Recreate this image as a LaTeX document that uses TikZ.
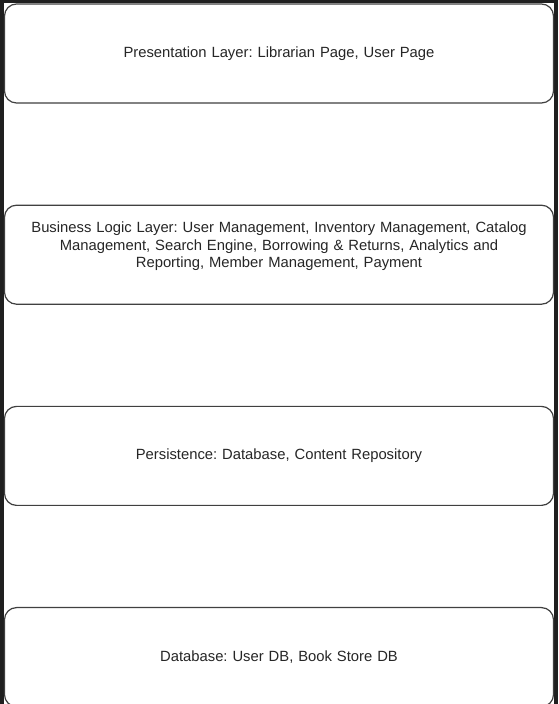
\documentclass[tikz,border=0pt]{standalone}
\usepackage{fontspec}
\setmainfont{Liberation Sans}
\frenchspacing
\usetikzlibrary{positioning}
\tikzset{
	layer/.style={draw=black!75, line width=1.2pt, rounded corners=12pt, fill=white,
		minimum width=549pt, minimum height=99pt, text width=530pt, align=center,
		font=\fontsize{14.8}{17.2}\selectfont, text=black!85},
	layertext/.style={text width=530pt, align=center,
		font=\fontsize{14.8}{17.2}\selectfont, text=black!85}
}

\begin{document}
\begin{tikzpicture}[x=1pt, y=1pt, node distance=101pt]
			\fill[black!88] (0,0) rectangle (558,704);
			\fill[white] (4,0) rectangle (554,701);
			\useasboundingbox (0,0) rectangle (558,704);
			\node[layer] (pres) at (279,650.5) {Presentation Layer: Librarian Page, User Page};
			\node[layer, below=of pres] (logic) {};
			% text sits a little above the middle here
			\node[layertext] (logictext) at ([yshift=8.5pt]logic.center) {Business Logic Layer: User Management, Inventory Management, Catalog\\
				Management, Search Engine, Borrowing \& Returns, Analytics and\\
				Reporting, Member Management, Payment};
			\node[layer, below=of logic] (persist) {Persistence: Database, Content Repository};
			\node[layer, below=of persist] (db) {Database: User DB, Book Store DB};
		\end{tikzpicture}
\end{document}
